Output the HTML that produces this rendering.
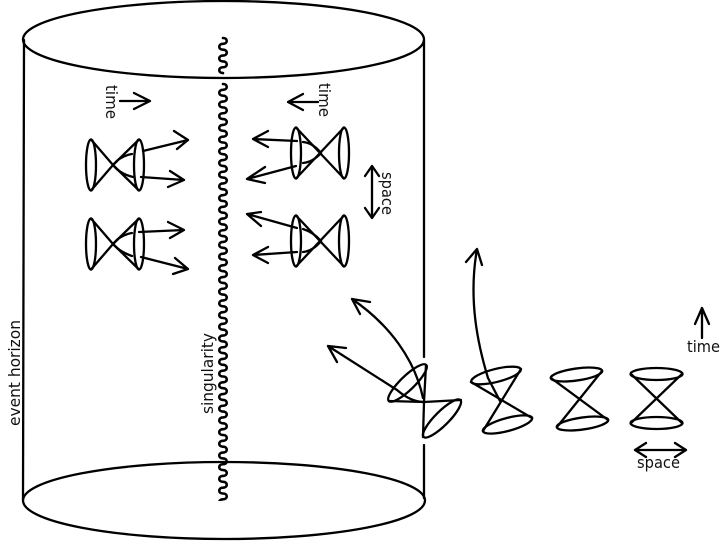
<!DOCTYPE html>
<html><head><meta charset="utf-8"><style>
html,body{margin:0;padding:0;background:#fff}
svg{display:block}
text{font-family:"DejaVu Sans","Liberation Sans",sans-serif;font-size:16px;fill:#111}
.s{fill:none;stroke:#000;stroke-width:2.300;stroke-linecap:round;stroke-linejoin:round}
</style></head><body>
<svg width="723" height="541" viewBox="0 0 723 541" xmlns="http://www.w3.org/2000/svg">
<defs>
<clipPath id="wc"><rect x="200" y="70" width="50" height="431"/></clipPath>
<g id="c" class="s"><ellipse cx="-24" cy="0" rx="5" ry="25.500"/><ellipse cx="24" cy="0" rx="5" ry="25.500"/><path d="M-24 -25.500L24 25.500M-24 25.500L24 -25.500"/></g>
<g id="d" class="s"><ellipse cx="-24" cy="0" rx="5" ry="25.500"/><ellipse cx="24" cy="0" rx="5" ry="25.500"/><path d="M-24 -25.500L-2 0L24 25.500M-24 25.500L-2 0L24 -25.500"/></g>
</defs>
<g class="s">
<ellipse cx="223.500" cy="39.500" rx="200.500" ry="38.500"/>
<ellipse cx="224" cy="500.500" rx="201" ry="38.500"/>
<path d="M24 40L23 500M424 40L424 357M424 445L424 498"/>
<path stroke-width="2.600" d="M223 38c5 0 5 5.850 0 5.850s-5 5.850 0 5.850s5 5.850 0 5.850s-5 5.850 0 5.850s5 5.850 0 5.850s-5 5.850 0 5.850"/>
<path clip-path="url(#wc)" stroke-width="2.600" d="M223 84c5 0 5 5.850 0 5.850s-5 5.850 0 5.850s5 5.850 0 5.850s-5 5.850 0 5.850s5 5.850 0 5.850s-5 5.850 0 5.850s5 5.850 0 5.850s-5 5.850 0 5.850s5 5.850 0 5.850s-5 5.850 0 5.850s5 5.850 0 5.850s-5 5.850 0 5.850s5 5.850 0 5.850s-5 5.850 0 5.850s5 5.850 0 5.850s-5 5.850 0 5.850s5 5.850 0 5.850s-5 5.850 0 5.850s5 5.850 0 5.850s-5 5.850 0 5.850s5 5.850 0 5.850s-5 5.850 0 5.850s5 5.850 0 5.850s-5 5.850 0 5.850s5 5.850 0 5.850s-5 5.850 0 5.850s5 5.850 0 5.850s-5 5.850 0 5.850s5 5.850 0 5.850s-5 5.850 0 5.850s5 5.850 0 5.850s-5 5.850 0 5.850s5 5.850 0 5.850s-5 5.850 0 5.850s5 5.850 0 5.850s-5 5.850 0 5.850s5 5.850 0 5.850s-5 5.850 0 5.850s5 5.850 0 5.850s-5 5.850 0 5.850s5 5.850 0 5.850s-5 5.850 0 5.850s5 5.850 0 5.850s-5 5.850 0 5.850s5 5.850 0 5.850s-5 5.850 0 5.850s5 5.850 0 5.850s-5 5.850 0 5.850s5 5.850 0 5.850s-5 5.850 0 5.850s5 5.850 0 5.850s-5 5.850 0 5.850s5 5.850 0 5.850s-5 5.850 0 5.850s5 5.850 0 5.850s-5 5.850 0 5.850s5 5.850 0 5.850s-5 5.850 0 5.850s5 5.850 0 5.850s-5 5.850 0 5.850s5 5.850 0 5.850s-5 5.850 0 5.850s5 5.850 0 5.850s-5 5.850 0 5.850s5 5.850 0 5.850s-5 5.850 0 5.850s5 5.850 0 5.850s-5 5.850 0 5.850s5 5.850 0 5.850s-5 5.850 0 5.850s5 5.850 0 5.850s-5 5.850 0 5.850s5 5.850 0 5.850s-5 5.850 0 5.850s5 5.850 0 5.850s-5 5.850 0 5.850s5 5.850 0 5.850"/>
</g>
<use href="#d" x="115" y="165"/>
<use href="#d" x="115" y="244"/>
<use href="#c" x="320" y="153"/>
<use href="#c" x="320" y="241"/>
<g class="s">
<path d="M113 165Q120 156 132 154M113 165Q120 174 133 177M143 151L188 140M174 131L188 140L177 149M141 177L184 180M170 171L184 180L168 187"/>
<path d="M113 244Q120 235 132 233M113 244Q120 252 132 256M139 232L184 230M168 222L184 230L170 238M141 257L188 269M175 258L188 269L173 274"/>
<path d="M321 153Q313 143 303 142M321 153Q313 162 303 163M297 141L253 139M268 131L253 139L268 147M296 166L247 179M265 167L247 179L265 183"/>
<path d="M321 241Q313 232 303 229M321 241Q313 251 303 252M297 228L247 214M261 212L247 214L261 226M297 252L253 255M268 247L253 255L268 263"/>
<path d="M120 101L150 101M134 93L150 101L134 109"/>
<path d="M318 102L288 102M303 94L288 102L303 110"/>
<path d="M372 166L372 218M365 176L372 166L379 176M365 208L372 218L379 208"/>
<path d="M702 338L702 308M695 324L702 308L709 324"/>
<path d="M635 450L686 450M646 443L635 450L646 457M675 443L686 450L675 457"/>
<ellipse cx="407.500" cy="383" rx="26" ry="7" transform="rotate(-44 407.500 383)"/>
<ellipse cx="442" cy="418.500" rx="26" ry="7" transform="rotate(-45 442 418.500)"/>
<path d="M424 402L389 401M424 402L426 365M424 402L423 437M424 402L461 400"/>
<path d="M423 398C415 360 390 325 352 299M360 314L352 299L370 302"/>
<path d="M424 402Q411 402 397 390L328 346M337 362L328 346L346 348"/>
<ellipse cx="496" cy="375.500" rx="25.500" ry="6.500" transform="rotate(-14 496 375.500)"/>
<ellipse cx="507.500" cy="424.500" rx="25.500" ry="6.500" transform="rotate(-15 507.500 424.500)"/>
<path d="M471 382L532 418M521 369L483 431"/>
<path d="M500 401L488 378C478 345 468 300 477 249M466 262L477 249L482 265"/>
<ellipse cx="576.500" cy="374.500" rx="26" ry="6" transform="rotate(-8 576.500 374.500)"/>
<ellipse cx="582.500" cy="423.500" rx="26" ry="6" transform="rotate(-8 582.500 423.500)"/>
<path d="M551 378L608 420M602 371L557 427"/>
<ellipse cx="656.500" cy="374" rx="26" ry="6"/>
<ellipse cx="656.500" cy="423" rx="26" ry="6"/>
<path d="M631 374L682 423M682 374L631 423"/>
</g>
<text transform="translate(106,85) rotate(90)" textLength="34" lengthAdjust="spacingAndGlyphs">time</text>
<text transform="translate(319,83) rotate(90)" textLength="34" lengthAdjust="spacingAndGlyphs">time</text>
<text transform="translate(382,172) rotate(90)" textLength="43" lengthAdjust="spacingAndGlyphs">space</text>
<text transform="translate(213,414) rotate(-90)" textLength="81" lengthAdjust="spacingAndGlyphs">singularity</text>
<text transform="translate(20,426) rotate(-90)" textLength="106" lengthAdjust="spacingAndGlyphs">event horizon</text>
<text x="687" y="352" textLength="33" lengthAdjust="spacingAndGlyphs">time</text>
<text x="637" y="468" textLength="43" lengthAdjust="spacingAndGlyphs">space</text>
</svg>
</body></html>
